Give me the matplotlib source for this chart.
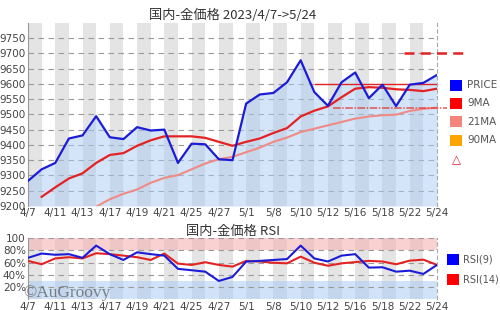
import matplotlib
matplotlib.use("Agg")
import matplotlib.pyplot as plt
from matplotlib.patches import Rectangle
import numpy as np

# ---- data ----
dates = ["4/7", "4/10", "4/11", "4/12", "4/13", "4/14", "4/17", "4/18", "4/19", "4/20",
         "4/21", "4/24", "4/25", "4/26", "4/27", "4/28", "5/1", "5/2", "5/8", "5/9",
         "5/10", "5/11", "5/12", "5/15", "5/16", "5/17", "5/18", "5/19", "5/22", "5/23", "5/24"]

price = [9282, 9320, 9341, 9421, 9431, 9494, 9425, 9419, 9458, 9447,
         9450, 9341, 9404, 9402, 9353, 9350, 9535, 9565, 9570, 9605,
         9677, 9573, 9528, 9605, 9637, 9553, 9597, 9527, 9597, 9603, 9629]

# 9MA starts at index 1, 21MA at index 5
ma9 = [None, 9230, 9261, 9290, 9307, 9341, 9367, 9373, 9397, 9415,
       9428, 9428, 9428, 9423, 9410, 9397, 9410, 9421, 9439, 9455,
       9493, 9512, 9526, 9556, 9584, 9589, 9587, 9582, 9580, 9576, 9584]
ma21 = [None, None, None, None, None, 9198, 9222, 9240, 9254, 9276,
        9292, 9301, 9320, 9339, 9353, 9361, 9376, 9391, 9410, 9424,
        9442, 9453, 9464, 9475, 9486, 9493, 9497, 9499, 9511, 9518, 9522]

rsi9 = [68, 75, 73, 74, 68, 88, 74, 64.5, 77, 74,
        71.6, 50, 47.7, 45.4, 30.2, 36.8, 61.8, 63, 64.5, 66,
        88, 67, 62, 71.6, 74, 52, 52.6, 45.4, 47, 41.7, 56.4]
rsi14 = [63, 57.5, 67, 69, 67, 75.5, 74, 71.6, 69, 64.5,
         75, 58.5, 56.4, 60.8, 56.4, 53.6, 63, 62, 60, 59,
         70, 60, 55, 59, 61, 63, 62, 57.5, 63.4, 65, 56.4]

price_ticks = [9200, 9250, 9300, 9350, 9400, 9450, 9500, 9550, 9600, 9650, 9700, 9750]
rsi_ticks = [20, 40, 60, 80, 100]
rsi_tick_labels = ["20%", "40%", "60%", "80%", "100"]

level_high = 9700     # thick dashed marker on the right
level_res = 9600      # thin solid line
level_sup = 9522      # dash-dot line

TICK_FONT = ["Liberation Sans Narrow", "DejaVu Sans"]
CJK_FONT = ["Noto Sans CJK JP", "DejaVu Sans"]
TXT = "#444444"

x = np.arange(len(dates))
ma9_arr = np.array([np.nan if v is None else v for v in ma9], dtype=float)
ma21_arr = np.array([np.nan if v is None else v for v in ma21], dtype=float)

fig = plt.figure(figsize=(5, 3.1), dpi=100)
fig.patch.set_facecolor("white")

ax = fig.add_axes([0.056, 0.3355, 0.818, 0.5913])
ax2 = fig.add_axes([0.056, 0.034, 0.818, 0.1975])


def base_style(a, ymin, ymax):
    a.set_xlim(0, len(dates) - 1)
    a.set_ylim(ymin, ymax)
    for k in range(0, len(dates), 2):
        a.axvspan(k, k + 1, color="#e4e4e4", lw=0, zorder=0)
    a.grid(axis="y", color="#9a9a9a", ls=(0, (5, 4)), lw=0.8, zorder=1)
    for s in ["top", "bottom"]:
        a.spines[s].set_visible(False)
    a.spines["left"].set_color("#999999")
    a.spines["left"].set_linewidth(0.8)
    a.spines["right"].set_color("#aaaaaa")
    a.spines["right"].set_linestyle((0, (3, 3)))
    a.spines["right"].set_linewidth(0.8)
    a.set_xticks(x[::2])
    a.set_xticklabels(dates[::2])
    a.tick_params(axis="both", length=0, pad=1.5, labelsize=7.5, colors=TXT)
    for lab in a.get_xticklabels() + a.get_yticklabels():
        lab.set_family(TICK_FONT)
        lab.set_color(TXT)


# ---- price chart ----
base_style(ax, 9200, 9800)
ax.set_yticks(price_ticks)
ax.fill_between(x, price, 9200, color="#aaccf5", alpha=0.5, lw=0, zorder=2)
ax.plot(x, ma21_arr, color="#f08a84", lw=1.5, zorder=3)
ax.plot(x, ma9_arr, color="#e42222", lw=1.6, zorder=4)
ax.plot(x, price, color="#1c1cd8", lw=1.6, zorder=5)

ax.hlines(level_res, 21, 30, color="#e42222", lw=1.0, zorder=4)
ax.hlines(level_sup, 22.4, 30.7, color="#e63030", lw=1.1, ls=(0, (5, 1, 1, 1)),
          alpha=0.8, zorder=4, clip_on=False)
ax.hlines(level_high, 27.6, 32.3, color="#e42222", lw=1.8, ls=(0, (4, 2.5)),
          zorder=4, clip_on=False)

ax.set_title("国内-金価格 2023/4/7->5/24", family=CJK_FONT, fontsize=9.5,
             color="#333333", pad=3)

# legend for price chart
leg_items = [("PRICE", "#0000ff"), ("9MA", "#ff0000"), ("21MA", "#f4857c"), ("90MA", "#ffa500")]
leg_y = [85.3, 103.5, 121.7, 140.0]
for (lab, col), yy in zip(leg_items, leg_y):
    fig.add_artist(Rectangle((450 / 500, 1 - (yy + 5.5) / 310), 11.5 / 500, 11 / 310,
                             transform=fig.transFigure, color=col, lw=0))
    fig.text(467 / 500, 1 - yy / 310, lab, va="center", ha="left", fontsize=7.5,
             color="#555555", family=TICK_FONT)
fig.text(456 / 500, 1 - 160 / 310, "△", va="center", ha="center", fontsize=8.5,
         color="#e0203a", family=["DejaVu Sans"])

# ---- RSI chart ----
base_style(ax2, 0, 100)
ax2.axhspan(80, 100, color="#f5b3b3", alpha=0.6, lw=0, zorder=0.5)
ax2.axhspan(0, 30, color="#aaccf5", alpha=0.55, lw=0, zorder=0.5)
ax2.set_yticks(rsi_ticks)
ax2.set_yticklabels(rsi_tick_labels)
for lab in ax2.get_yticklabels():
    lab.set_family(TICK_FONT)
ax2.plot(x, rsi14, color="#e42222", lw=1.5, zorder=4)
ax2.plot(x, rsi9, color="#1c1cd8", lw=1.5, zorder=5)
ax2.set_title("国内-金価格 RSI", family=CJK_FONT, fontsize=9.5, color="#333333", pad=2)

ax2.text(-0.012, 0.11, "©AuGroovy", transform=ax2.transAxes, fontsize=12.5,
         family=["Liberation Serif", "DejaVu Serif"], color="#666666", alpha=0.8,
         va="center", ha="left", zorder=6)

for (lab, col), yy in zip([("RSI(9)", "#0000ff"), ("RSI(14)", "#ff0000")], [259, 279]):
    fig.add_artist(Rectangle((447 / 500, 1 - (yy + 5.5) / 310), 11.5 / 500, 11 / 310,
                             transform=fig.transFigure, color=col, lw=0))
    fig.text(463 / 500, 1 - yy / 310, lab, va="center", ha="left", fontsize=7,
             color="#555555", family=TICK_FONT)

fig.savefig("out.png", dpi=100)
